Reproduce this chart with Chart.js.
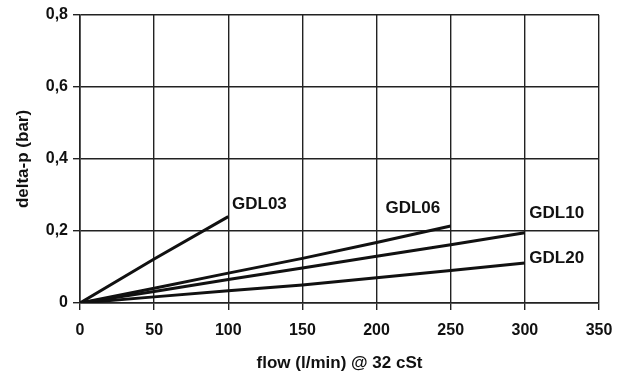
<!DOCTYPE html>
<html><head><meta charset="utf-8">
<script src="https://cdn.jsdelivr.net/npm/chart.js@4/dist/chart.umd.min.js"></script>
<style>html,body{margin:0;padding:0;background:#fff}#w{width:631px;height:378px}</style>
</head><body><div id="w"><canvas id="c"></canvas></div>
<script>
const flowTicks = [0, 50, 100, 150, 200, 250, 300, 350];
const dpTicks = [0, 0.2, 0.4, 0.6, 0.8];
const seriesNames = ["GDL03", "GDL06", "GDL10", "GDL20"];
const gdl03X = [0, 50, 100];
const gdl03Y = [0, 0.122, 0.24];
const gdl06X = [0, 50, 100, 150, 200, 250];
const gdl06Y = [0, 0.041, 0.083, 0.124, 0.168, 0.214];
const gdl10X = [0, 50, 100, 150, 200, 250, 300];
const gdl10Y = [0, 0.032, 0.065, 0.097, 0.13, 0.162, 0.195];
const gdl20X = [0, 50, 100, 150, 200, 250, 300];
const gdl20Y = [0, 0.017, 0.034, 0.05, 0.07, 0.09, 0.111];
const labelX = [102.5, 206, 303, 303];
const labelY = [0.275, 0.264, 0.25, 0.125];

const xs = [gdl03X, gdl06X, gdl10X, gdl20X];
const ys = [gdl03Y, gdl06Y, gdl10Y, gdl20Y];
const datasets = seriesNames.map((n, i) => ({
  label: n,
  data: xs[i].map((x, j) => ({x: x, y: ys[i][j]})),
  borderColor: '#111', borderWidth: 3, pointRadius: 0, fill: false, tension: 0
}));

const FONT = '"Liberation Sans", Arial, sans-serif';
const labelPlugin = {
  id: 'lbl',
  afterDatasetsDraw(chart) {
    const ctx = chart.ctx, sx = chart.scales.x, sy = chart.scales.y;
    ctx.save();
    ctx.fillStyle = '#111';
    ctx.font = 'bold 17px ' + FONT;
    ctx.textAlign = 'left'; ctx.textBaseline = 'middle';
    seriesNames.forEach((n, i) => ctx.fillText(n, sx.getPixelForValue(labelX[i]), sy.getPixelForValue(labelY[i])));
    ctx.restore();
  }
};

new Chart(document.getElementById('c'), {
  type: 'line',
  data: {datasets},
  plugins: [labelPlugin],
  options: {
    responsive: true, maintainAspectRatio: false, animation: false,
    layout: {padding: {left: 0, right: 32, top: 15, bottom: 0}},
    plugins: {legend: {display: false}, tooltip: {enabled: false}},
    scales: {
      x: {
        type: 'linear', min: 0, max: 350,
        afterBuildTicks: s => { s.ticks = flowTicks.map(v => ({value: v})); },
        grid: {color: '#222', lineWidth: 1.4, tickLength: 7, tickColor: '#222'},
        border: {color: '#222', width: 1.6},
        ticks: {color: '#111', font: {family: FONT, size: 16, weight: 'bold'}, padding: 11},
        title: {display: true, text: 'flow (l/min) @ 32 cSt', color: '#111', font: {family: FONT, size: 17, weight: 'bold'}, padding: {top: 4}},
        afterFit: s => { s.height = 378 - 303; }
      },
      y: {
        type: 'linear', min: 0, max: 0.8,
        afterBuildTicks: s => { s.ticks = dpTicks.map(v => ({value: v})); },
        grid: {color: '#222', lineWidth: 1.4, tickLength: 7, tickColor: '#222'},
        border: {color: '#222', width: 1.6},
        ticks: {color: '#111', font: {family: FONT, size: 16, weight: 'bold'}, padding: 5,
          callback: v => v === 0 ? '0' : v.toFixed(1).replace('.', ',')},
        title: {display: true, text: 'delta-p (bar)', color: '#111', font: {family: FONT, size: 17, weight: 'bold'}, padding: {top: 13, bottom: 0}},
        afterFit: s => { s.width = 80; }
      }
    }
  }
});
</script></body></html>
